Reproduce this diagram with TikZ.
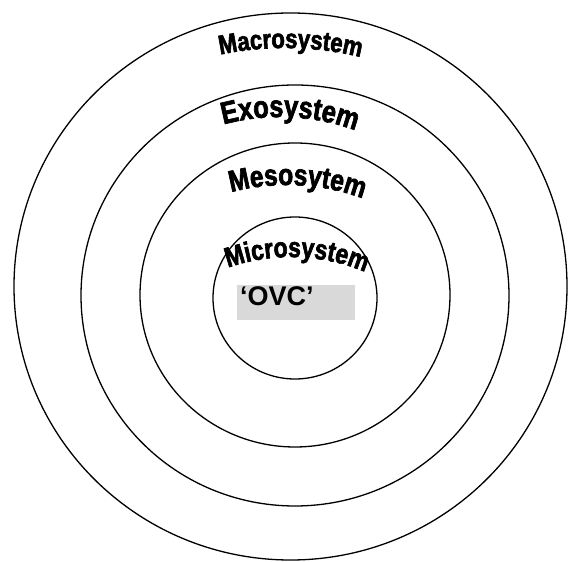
\documentclass[tikz,border=0pt]{standalone}
\usepackage{fontspec}
\usetikzlibrary{decorations.text}
\newfontfamily\lsans{Liberation Sans}
\newfontfamily\lsansc[FakeStretch=0.82,FakeBold=2.2]{Liberation Sans}
\newcommand\fMacro{\lsansc\bfseries\fontsize{27pt}{27pt}\selectfont}
\newcommand\fExo{\lsansc\bfseries\fontsize{31pt}{31pt}\selectfont}
\newcommand\fMeso{\lsansc\bfseries\fontsize{30pt}{30pt}\selectfont}
\newcommand\fMicro{\lsansc\bfseries\fontsize{28pt}{28pt}\selectfont}
\newcommand\fOvc{\lsans\bfseries\fontsize{27pt}{27pt}\selectfont}
\definecolor{ovcgray}{RGB}{217,217,217}
\begin{document}
\begin{tikzpicture}[x=1pt,y=1pt,
  ring/.style={draw=black, line width=1.3pt},
  arctext/.style={decorate, decoration={text along path, text align=center, text={#1}}}]
\useasboundingbox (0,0) rectangle (568,562);
\fill[white] (0,0) rectangle (568,562);
% rings
\coordinate (cMacro) at (290.5,275.5);
\coordinate (cExo) at (295,266.5);
\coordinate (cMeso) at (295,267);
\coordinate (cMicro) at (295,264);
\draw[ring] (cMacro) ellipse [x radius=276.5, y radius=273.5];
\draw[ring] (cExo) ellipse [x radius=214, y radius=210.5];
\draw[ring] (cMeso) ellipse [x radius=155, y radius=152];
\draw[ring] (cMicro) ellipse [x radius=82, y radius=81];
% curved labels
\coordinate (tMacro) at (285,196);
\coordinate (tExo) at (280,226);
\coordinate (tMeso) at (287,156);
\coordinate (tMicro) at (291,115);
\path[arctext={|\fMacro|Macrosystem}] (tMacro) ++(109:318) arc (109:69:318);
\path[arctext={|\fExo|Exosystem}] (tExo) ++(117.4:219) arc (117.4:57.4:219);
\path[arctext={|\fMeso|Mesosytem}] (tMeso) ++(117.3:221) arc (117.3:57.3:221);
\path[arctext={|\fMicro|Microsystem}] (tMicro) ++(118.2:190) arc (118.2:58.2:190);
% OVC box
\node[fill=ovcgray, minimum width=118, minimum height=35, inner sep=0, anchor=south west] (ovcbox) at (237,242) {};
\node[anchor=base west, inner sep=0, font=\fOvc] (ovc) at (240,256) {‘OVC’};
\end{tikzpicture}
\end{document}
